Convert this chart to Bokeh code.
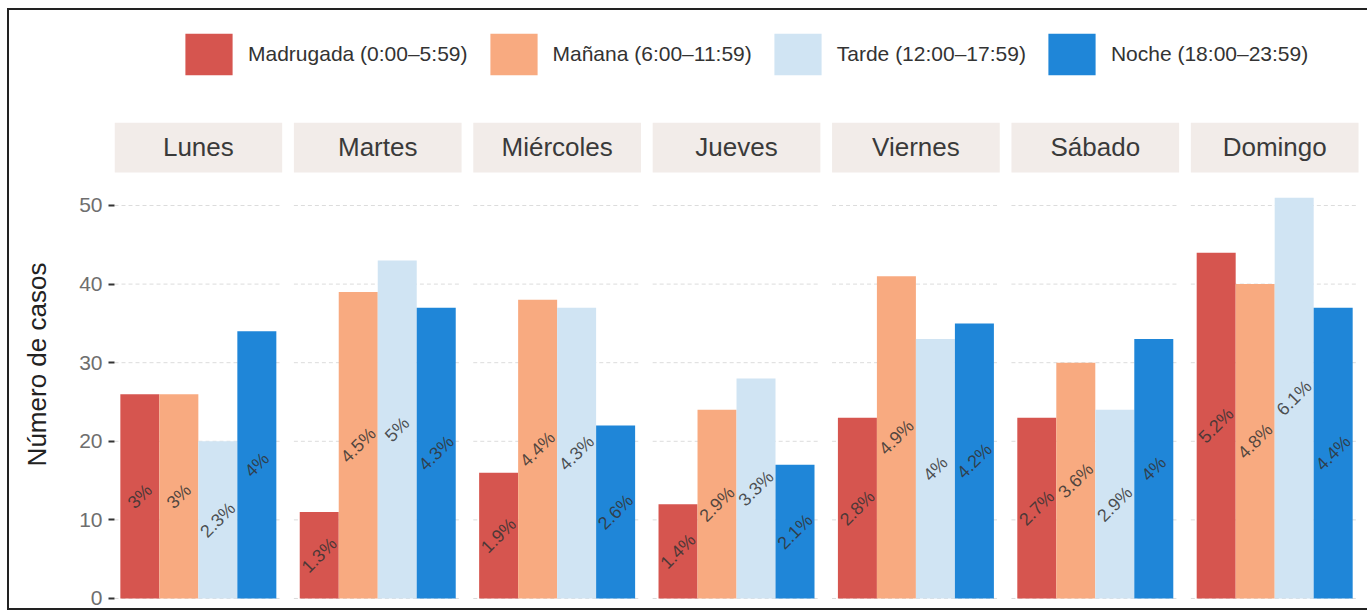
import math
from bokeh.plotting import figure
from bokeh.layouts import column
from bokeh.models import Range1d, FixedTicker, Legend, LegendItem, ColumnDataSource
from bokeh.core.properties import value
from bokeh.embed import file_html
from bokeh.resources import INLINE

# ---------------- data ----------------
days = ["Lunes", "Martes", "Miércoles", "Jueves", "Viernes", "Sábado", "Domingo"]
franjas = ["Madrugada (0:00\u20135:59)", "Mañana (6:00\u201311:59)",
           "Tarde (12:00\u201317:59)", "Noche (18:00\u201323:59)"]
madrugada = [26, 11, 16, 12, 23, 23, 44]
manana = [26, 39, 38, 24, 41, 30, 40]
tarde = [20, 43, 37, 28, 33, 24, 51]
noche = [34, 37, 22, 17, 35, 33, 37]
pct_madrugada = ["3%", "1.3%", "1.9%", "1.4%", "2.8%", "2.7%", "5.2%"]
pct_manana = ["3%", "4.5%", "4.4%", "2.9%", "4.9%", "3.6%", "4.8%"]
pct_tarde = ["2.3%", "5%", "4.3%", "3.3%", "4%", "2.9%", "6.1%"]
pct_noche = ["4%", "4.3%", "2.6%", "2.1%", "4.2%", "4%", "4.4%"]
y_ticks = [0, 10, 20, 30, 40, 50]

series = [madrugada, manana, tarde, noche]
pcts = [pct_madrugada, pct_manana, pct_tarde, pct_noche]
colors = ["#d6554f", "#f8aa80", "#d0e4f3", "#1f86d8"]

FONT = "Liberation Sans"

# ---------------- layout (facet geometry in data units) ----------------
BAR_W = 1.0
PANEL_W = 4.3
GAP = 0.3
PITCH = PANEL_W + GAP
PAD = (PANEL_W - 4 * BAR_W) / 2
STRIP_BOTTOM, STRIP_TOP = 54.2, 60.56

# ---------------- legend strip (top) ----------------
top = figure(width=1358, height=112, output_backend="svg", toolbar_location=None,
             x_range=Range1d(0, 1), y_range=Range1d(0, 1),
             min_border_left=0, min_border_right=0, min_border_top=0,
             min_border_bottom=0)
top.axis.visible = False
top.grid.grid_line_color = None
top.outline_line_color = None

items = []
for col, name in zip(colors, franjas):
    # off-range placeholder glyph: only its legend swatch is shown
    r = top.vbar(x=[-5], top=[0], bottom=0, width=1, fill_color=col, line_color=None)
    items.append(LegendItem(label=name, renderers=[r]))
legend = Legend(items=items, orientation="horizontal", location=(65, 42),
                glyph_width=59, glyph_height=52, label_text_font=FONT,
                label_text_font_size="21px", label_text_color="#333333",
                label_standoff=10, spacing=16, padding=0, margin=0,
                border_line_color=None, background_fill_alpha=0)
top.add_layout(legend, "center")

# ---------------- facetted bar chart ----------------
p = figure(width=1358, height=486, output_backend="svg", toolbar_location=None,
           x_range=Range1d(0, 32.13), y_range=Range1d(-1.02, STRIP_TOP),
           min_border_left=105, min_border_right=0, min_border_top=0,
           min_border_bottom=2)
p.outline_line_color = None
p.background_fill_color = "white"
p.border_fill_color = "white"
p.xaxis.visible = False
p.xgrid.grid_line_color = None
p.ygrid.grid_line_color = None

# panel gridlines
gx0, gx1, gy = [], [], []
for d in range(len(days)):
    for t in y_ticks:
        gx0.append(d * PITCH)
        gx1.append(d * PITCH + PANEL_W)
        gy.append(t)
p.segment(x0=gx0, x1=gx1, y0=gy, y1=gy, line_color="#dcdcdc", line_width=1,
          line_dash="4 3")

# strips
sl = [d * PITCH for d in range(len(days))]
sr = [d * PITCH + PANEL_W for d in range(len(days))]
p.quad(left=sl, right=sr, bottom=STRIP_BOTTOM, top=STRIP_TOP,
       fill_color="#f2ece9", line_color=None)
p.text(x=[d * PITCH + PANEL_W / 2 for d in range(len(days))],
       y=[(STRIP_BOTTOM + STRIP_TOP) / 2] * len(days), text=days,
       text_font=value(FONT), text_font_size="26px", text_color="#3a3a3a",
       text_align="center", text_baseline="middle")

# bars + percentage labels
for s, (vals, lab, col) in enumerate(zip(series, pcts, colors)):
    xs = [d * PITCH + PAD + s * BAR_W + BAR_W / 2 for d in range(len(days))]
    src = ColumnDataSource(dict(x=xs, top=vals, half=[v / 2 for v in vals], lab=lab))
    p.vbar(x="x", top="top", bottom=0, width=BAR_W, source=src,
           fill_color=col, line_color=None)
    p.text(x="x", y="half", text="lab", source=src, angle=math.pi / 4,
           text_font=value(FONT), text_font_size="18px", text_color="#333333",
           text_alpha=0.85, text_align="center", text_baseline="middle")

# y axis
ax = p.yaxis[0]
ax.ticker = FixedTicker(ticks=y_ticks)
ax.axis_line_color = None
ax.major_tick_line_color = "#333333"
ax.major_tick_line_width = 2
ax.major_tick_out = 6
ax.major_tick_in = 0
ax.minor_tick_line_color = None
ax.major_label_text_font = FONT
ax.major_label_text_font_size = "21px"
ax.major_label_text_color = "#6e6e6e"
ax.major_label_standoff = 6
ax.axis_label = "Número de casos"
ax.axis_label_text_font = FONT
ax.axis_label_text_font_size = "26px"
ax.axis_label_text_font_style = "normal"
ax.axis_label_text_color = "#222222"
ax.axis_label_standoff = 24

layout = column(top, p, spacing=0)
layout.styles = {"margin-top": "8px", "margin-left": "7px",
                 "border-top": "2px solid #222", "border-left": "2px solid #222",
                 "border-bottom": "2px solid #222"}

open("out.html", "w").write(file_html(layout, INLINE))
